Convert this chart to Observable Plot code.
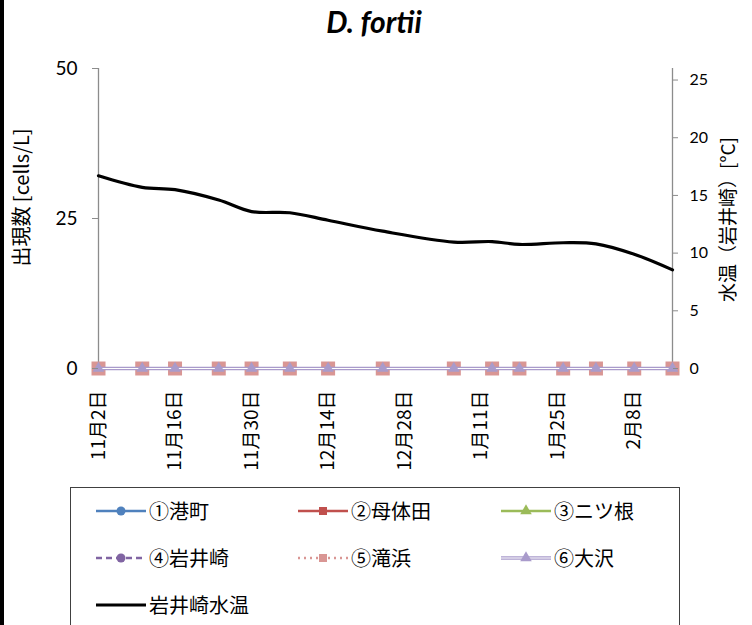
<!DOCTYPE html>
<html><head><meta charset="utf-8">
<script src="https://cdn.jsdelivr.net/npm/d3@7"></script>
<script src="https://cdn.jsdelivr.net/npm/@observablehq/plot@0.6"></script>
<style>
body{margin:0;background:#fff;width:752px;height:625px;overflow:hidden;position:relative;font-family:Lato,"Noto Sans CJK JP",sans-serif;}
#border{position:absolute;left:0;top:0;width:4px;height:625px;background:#000;}
#title{position:absolute;left:0;top:1px;width:748px;text-align:center;font-size:30px;font-weight:bold;font-style:italic;line-height:40px;font-family:Lato,sans-serif;}
#chart{position:absolute;left:0;top:55px;}
#legend{position:absolute;left:70px;top:487px;width:608px;height:160px;border:1.5px solid #404040;}
.item{position:absolute;display:flex;align-items:center;font-size:20px;font-family:"Noto Sans CJK JP",sans-serif;height:26px;line-height:26px;}
.item svg{margin-right:3px;}
</style></head><body>
<div id="border"></div>
<div id="title">D. fortii</div>
<div id="chart"></div>
<div id="legend"></div>
<script>
// ---- data ----
const dates = ["2015-11-02","2015-11-10","2015-11-16","2015-11-24","2015-11-30","2015-12-07","2015-12-14","2015-12-24","2016-01-06","2016-01-13","2016-01-18","2016-01-26","2016-02-01","2016-02-08","2016-02-15"];
const minatomachi = [0,0,0,0,0,0,0,0,0,0,0,0,0,0,0];
const motaida     = [0,0,0,0,0,0,0,0,0,0,0,0,0,0,0];
const futatsune   = [0,0,0,0,0,0,0,0,0,0,0,0,0,0,0];
const iwaisaki    = [0,0,0,0,0,0,0,0,0,0,0,0,0,0,0];
const takihama    = [0,0,0,0,0,0,0,0,0,0,0,0,0,0,0];
const osawa       = [0,0,0,0,0,0,0,0,0,0,0,0,0,0,0];
const waterTemp   = [16.7,15.7,15.5,14.6,13.6,13.5,12.85,11.9,10.96,11.0,10.75,10.9,10.8,9.9,8.55];
const xTickDates  = ["2015-11-02","2015-11-16","2015-11-30","2015-12-14","2015-12-28","2016-01-11","2016-01-25","2016-02-08"];
const leftTicks   = [0,25,50];
const rightTicks  = [0,5,10,15,20,25];
const leftMax = 50, rightMax = 26;
const seriesNames = ["①港町","②母体田","③ニツ根","④岩井崎","⑤滝浜","⑥大沢"];
const tempName = "岩井崎水温";
const leftLabel = "出現数 [cells/L]";
const rightLabel = "水温（岩井崎）[°C]";

// ---- styles ----
const styles = [
  {values:minatomachi, color:"#4f81bd", symbol:"circle",   r:4.5, dash:null,  w:2.5},
  {values:motaida,     color:"#c0504d", symbol:"square",   r:4.5, dash:null,  w:2.5},
  {values:futatsune,   color:"#9bbb59", symbol:"triangle", r:3.5, dash:null,  w:2.5},
  {values:iwaisaki,    color:"#8064a2", symbol:"circle",   r:4.5, dash:"6,4", w:2.5},
  {values:takihama,    color:"#d99694", symbol:"square",   r:7.9, dash:"2,4", w:2.5},
  {values:osawa,       color:"#a99bcb", symbol:"triangle", r:4.3, dash:null,  w:3.5, dbl:true}
];
const k = leftMax / rightMax;
const parse = s => new Date(s + "T00:00:00Z");
const fmt = d => `${d.getUTCMonth()+1}月${d.getUTCDate()}日`;
const cjk = "'Noto Sans CJK JP', sans-serif";

const marks = [];
marks.push(Plot.ruleX([parse(dates[0]), parse(dates[dates.length-1])], {y1:0, y2:leftMax, stroke:"#8c8c8c", strokeWidth:1.3}));
marks.push(Plot.ruleY([0], {stroke:"#8c8c8c", strokeWidth:1.3}));
styles.forEach((s, si) => {
  const rows = dates.map((d,i)=>({date:parse(d), v:s.values[i]}));
  marks.push(Plot.line(rows, {x:"date", y:"v", stroke:s.color, strokeWidth:s.w, strokeDasharray:s.dash}));
  if (s.dbl) marks.push(Plot.line(rows, {x:"date", y:"v", stroke:"#fff", strokeWidth:1.1}));
  marks.push(Plot.dot(rows, {x:"date", y:"v", symbol:s.symbol, r:s.r, fill:s.color, stroke:null}));
});
const tempRows = dates.map((d,i)=>({date:parse(d), t:waterTemp[i]}));
marks.push(Plot.line(tempRows, {x:"date", y:d=>d.t*k, curve:"catmull-rom", stroke:"#000", strokeWidth:3.2}));
marks.push(Plot.axisY(leftTicks, {anchor:"left", tickSize:6, tickPadding:15, fontSize:19, stroke:"#8c8c8c", label:null}));
marks.push(Plot.axisY(rightTicks.map(t=>t*k), {anchor:"right", tickSize:5, tickPadding:12, fontSize:16, stroke:"#8c8c8c", tickFormat:d=>Math.round(d/k), label:null}));
marks.push(Plot.axisX(xTickDates.map(parse), {anchor:"bottom", tickSize:0, tickPadding:22, tickRotate:-90, fontSize:19, fontFamily:cjk, tickFormat:fmt, label:null}));
marks.push(Plot.text([leftLabel], {frameAnchor:"left", dx:-76, dy:-21, rotate:-90, textAnchor:"middle", fontSize:20, fill:"#000", fontFamily:cjk}));
marks.push(Plot.text([rightLabel], {frameAnchor:"right", dx:56, dy:1, rotate:-90, textAnchor:"middle", fontSize:19, fill:"#000", fontFamily:cjk}));

const chart = Plot.plot({
  width:752, height:432,
  marginTop:13, marginBottom:119, marginLeft:98, marginRight:80,
  style:{fontFamily:"Lato,'Noto Sans CJK JP',sans-serif", fontSize:"15px", color:"#000", background:"transparent", overflow:"visible"},
  x:{type:"utc", domain:[parse(dates[0]), parse(dates[dates.length-1])]},
  y:{domain:[0,leftMax]},
  marks
});
document.getElementById("chart").appendChild(chart);

// ---- legend ----
const legend = document.getElementById("legend");
const cols = [25, 227, 430], rowsY = [23, 70, 117];
function sampleSvg(s){
  const ns = "http://www.w3.org/2000/svg";
  const svg = document.createElementNS(ns, "svg");
  svg.setAttribute("width", 50); svg.setAttribute("height", 20);
  const add = (tag, attrs) => { const el = document.createElementNS(ns, tag); for (const a in attrs) el.setAttribute(a, attrs[a]); svg.appendChild(el); };
  add("line", {x1:0, x2:50, y1:10, y2:10, stroke:s.color, "stroke-width":s.w, "stroke-dasharray":s.dash || "none"});
  if (s.dbl) add("line", {x1:0, x2:50, y1:10, y2:10, stroke:"#fff", "stroke-width":1.1});
  if (s.symbol) {
    const sym = {circle:d3.symbolCircle, square:d3.symbolSquare, triangle:d3.symbolTriangle}[s.symbol];
    const lr = s.symbol === "square" ? 4.5 : s.symbol === "triangle" ? 4.3 : 4.5;
    add("path", {d:d3.symbol(sym, Math.PI*lr*lr)(), transform:"translate(25,10)", fill:s.color});
  }
  return svg;
}
styles.forEach((s,i) => {
  const div = document.createElement("div");
  div.className = "item";
  div.style.left = cols[i%3] + "px";
  div.style.top = (rowsY[Math.floor(i/3)] - 13) + "px";
  div.appendChild(sampleSvg(s));
  div.appendChild(document.createTextNode(seriesNames[i]));
  legend.appendChild(div);
});
const tdiv = document.createElement("div");
tdiv.className = "item"; tdiv.style.left = cols[0] + "px"; tdiv.style.top = (rowsY[2]-13) + "px";
tdiv.appendChild(sampleSvg({color:"#000", w:3.2, dash:null}));
tdiv.appendChild(document.createTextNode(tempName));
legend.appendChild(tdiv);
</script>
</body></html>
